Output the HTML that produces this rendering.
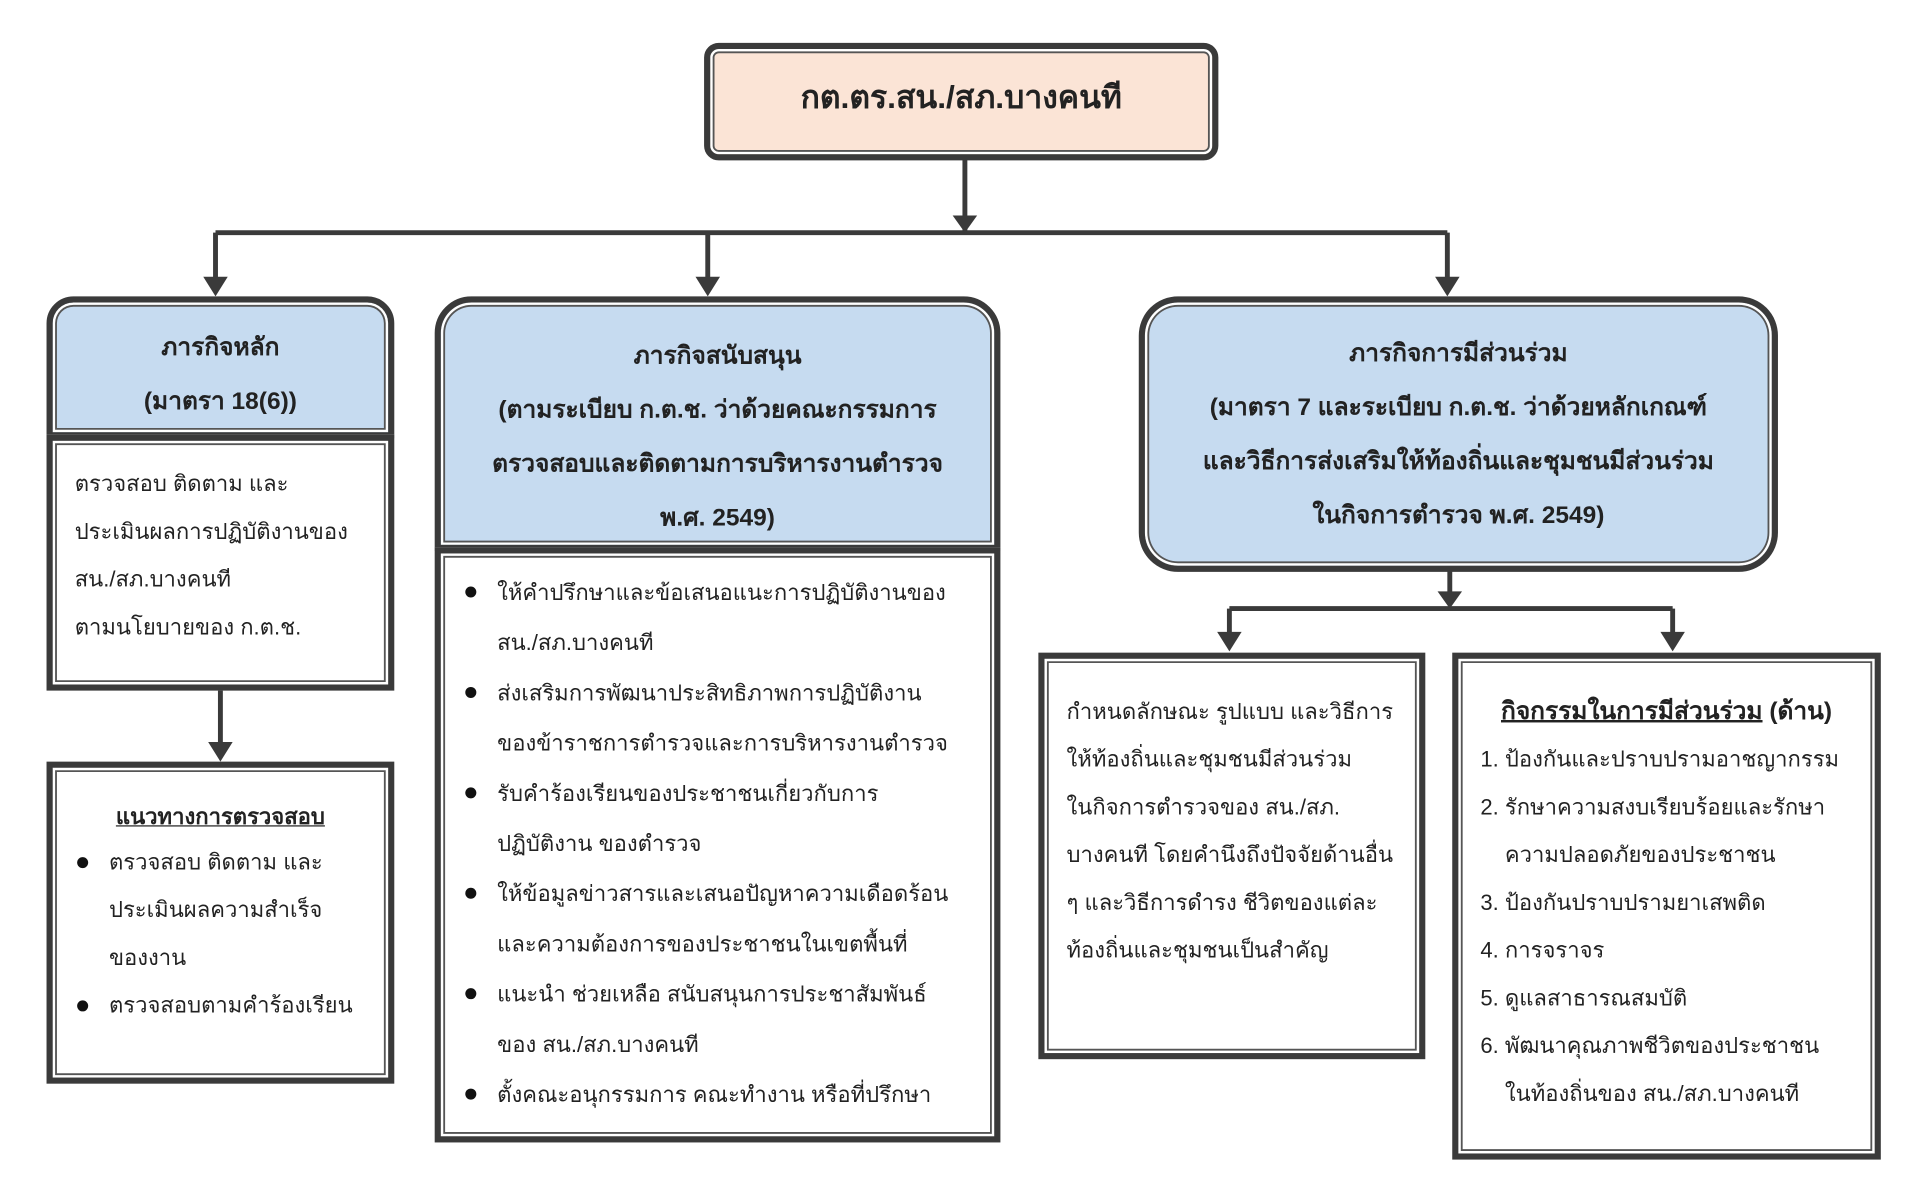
<!DOCTYPE html>
<html><head><meta charset="utf-8">
<style>
html,body{margin:0;padding:0;background:#fff;width:1920px;height:1188px;overflow:hidden}
#w{position:absolute;left:0;top:0;width:1568px;height:970px;transform:scale(1.22449);transform-origin:0 0;font-family:"Liberation Sans","DejaVu Sans","Noto Sans CJK SC",sans-serif;color:#222}
.b{position:absolute;box-sizing:border-box;border:5px solid #3a3a3a;box-shadow:inset 0 0 0 2px #fff,inset 0 0 0 3.5px #555;background:#fff}
.blue{background:#c6dbf0}
.h{display:flex;flex-direction:column;justify-content:center;align-items:center;text-align:center;font-weight:bold;font-size:20px;line-height:44px}
.t{font-size:18px;line-height:39px;padding:16px 18px}
ul{margin:0;padding:0 0 0 28px;list-style:none}
li{position:relative}
li:before{content:"";position:absolute;left:-26px;top:15px;width:9px;height:9px;border-radius:50%;background:#111}
svg{position:absolute;left:0;top:0}
</style></head><body><div id="w">
<svg width="1568" height="970">
<g stroke="#3a3a3a" stroke-width="4" fill="none">
<path d="M788 130V178M176 190H1182M176 190V228M578 190V228M1182 190V228M788 190V178"/>
<path d="M180 563V608M1184 466V485M1004 497H1366M1004 497V518M1366 497V518"/>
</g>
<g fill="#3a3a3a">
<polygon points="778,176 798,176 788,190"/>
<polygon points="166,226 186,226 176,242"/>
<polygon points="568,226 588,226 578,242"/>
<polygon points="1172,226 1192,226 1182,242"/>
<polygon points="170,606 190,606 180,622"/>
<polygon points="1174,483 1194,483 1184,497"/>
<polygon points="994,516 1014,516 1004,532"/>
<polygon points="1356,516 1376,516 1366,532"/>
</g>
</svg>
<div class="b h" style="left:575px;top:35px;width:420px;height:96px;background:#fbe4d6;border-radius:12px;font-size:26px;padding-bottom:8px">กต.ตร.สน./สภ.บางคนที</div>

<div class="b blue h" style="left:38px;top:242px;width:284px;height:116px;border-radius:22px 22px 0 0;padding-top:12px">ภารกิจหลัก<br>(มาตรา 18(6))</div>
<div class="b t" style="left:38px;top:355px;width:284px;height:209px">ตรวจสอบ ติดตาม และ<br>ประเมินผลการปฏิบัติงานของ<br>สน./สภ.บางคนที<br>ตามนโยบายของ ก.ต.ช.</div>
<div class="b t" style="left:38px;top:622px;width:284px;height:263px;padding-top:22px"><div style="text-align:center;font-weight:bold;text-decoration:underline;line-height:36px">แนวทางการตรวจสอบ</div><ul><li>ตรวจสอบ ติดตาม และ<br>ประเมินผลความสำเร็จ<br>ของงาน</li><li>ตรวจสอบตามคำร้องเรียน</li></ul></div>

<div class="b blue h" style="left:355px;top:242px;width:462px;height:208px;border-radius:30px 30px 0 0;padding-top:22px">ภารกิจสนับสนุน<br>(ตามระเบียบ ก.ต.ช. ว่าด้วยคณะกรรมการ<br>ตรวจสอบและติดตามการบริหารงานตำรวจ<br>พ.ศ. 2549)</div>
<div class="b t" style="left:355px;top:447px;width:462px;height:486px;line-height:41px;padding-left:18px;padding-top:12px"><ul style="padding-left:28px"><li>ให้คำปรึกษาและข้อเสนอแนะการปฏิบัติงานของ<br>สน./สภ.บางคนที</li><li>ส่งเสริมการพัฒนาประสิทธิภาพการปฏิบัติงาน<br>ของข้าราชการตำรวจและการบริหารงานตำรวจ</li><li>รับคำร้องเรียนของประชาชนเกี่ยวกับการ<br>ปฏิบัติงาน ของตำรวจ</li><li>ให้ข้อมูลข่าวสารและเสนอปัญหาความเดือดร้อน<br>และความต้องการของประชาชนในเขตพื้นที่</li><li>แนะนำ ช่วยเหลือ สนับสนุนการประชาสัมพันธ์<br>ของ สน./สภ.บางคนที</li><li>ตั้งคณะอนุกรรมการ คณะทำงาน หรือที่ปรึกษา</li></ul></div>

<div class="b blue h" style="left:930px;top:242px;width:522px;height:225px;border-radius:32px">ภารกิจการมีส่วนร่วม<br>(มาตรา 7 และระเบียบ ก.ต.ช. ว่าด้วยหลักเกณฑ์<br>และวิธีการส่งเสริมให้ท้องถิ่นและชุมชนมีส่วนร่วม<br>ในกิจการตำรวจ พ.ศ. 2549)</div>

<div class="b t" style="left:848px;top:533px;width:316px;height:332px;padding-top:24px">กำหนดลักษณะ รูปแบบ และวิธีการ<br>ให้ท้องถิ่นและชุมชนมีส่วนร่วม<br>ในกิจการตำรวจของ สน./สภ.<br>บางคนที โดยคำนึงถึงปัจจัยด้านอื่น<br>ๆ และวิธีการดำรง ชีวิตของแต่ละ<br>ท้องถิ่นและชุมชนเป็นสำคัญ</div>
<div class="b t" style="left:1186px;top:533px;width:350px;height:414px;padding-top:24px"><div style="font-weight:bold;font-size:20px;text-align:center"><u>กิจกรรมในการมีส่วนร่วม</u> (ด้าน)</div>1. ป้องกันและปราบปรามอาชญากรรม<br>2. รักษาความสงบเรียบร้อยและรักษา<br>&nbsp;&nbsp;&nbsp;&nbsp;ความปลอดภัยของประชาชน<br>3. ป้องกันปราบปรามยาเสพติด<br>4. การจราจร<br>5. ดูแลสาธารณสมบัติ<br>6. พัฒนาคุณภาพชีวิตของประชาชน<br>&nbsp;&nbsp;&nbsp;&nbsp;ในท้องถิ่นของ สน./สภ.บางคนที</div>
</div></body></html>
